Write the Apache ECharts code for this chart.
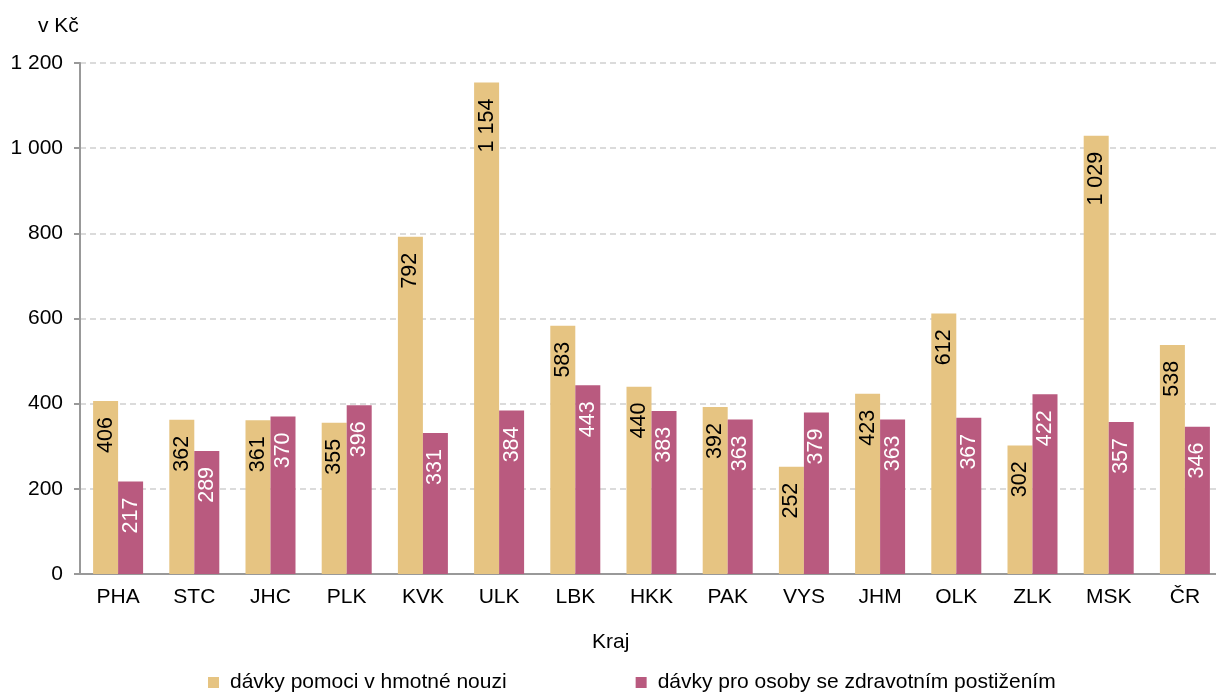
<!DOCTYPE html>
<html><head><meta charset="utf-8">
<script src="https://cdn.jsdelivr.net/npm/echarts@6/dist/echarts.min.js"></script>
<style>html,body{margin:0;padding:0;background:#fff}#c{width:1216px;height:693px}</style>
</head><body><div id="c"></div>
<script>
const categories = ['PHA','STC','JHC','PLK','KVK','ULK','LBK','HKK','PAK','VYS','JHM','OLK','ZLK','MSK','ČR'];
const hmotnaNouze = [406, 362, 361, 355, 792, 1154, 583, 440, 392, 252, 423, 612, 302, 1029, 538];
const zdravotniPostizeni = [217, 289, 370, 396, 331, 384, 443, 383, 363, 379, 363, 367, 422, 357, 346];
const seriesNames = ['dávky pomoci v hmotné nouzi', 'dávky pro osoby se zdravotním postižením'];
const yTicks = [0, 200, 400, 600, 800, 1000, 1200];
const unitLabel = 'v Kč';
const xAxisTitle = 'Kraj';

const FONT = '"Liberation Sans", Arial, sans-serif';
const fmt = v => String(v).replace(/\B(?=(\d{3})+(?!\d))/g, ' ');

const chart = echarts.init(document.getElementById('c'), null, {renderer: 'canvas'});
chart.setOption({
  animation: false,
  textStyle: {fontFamily: FONT},
  title: {text: unitLabel, left: 33, top: 11, textStyle: {fontFamily: FONT, fontSize: 21, fontWeight: 'normal', color: '#000'}},
  graphic: [{
    type: 'text', left: 592, top: 632,
    style: {text: xAxisTitle, fontFamily: FONT, fontSize: 21, fill: '#000'}
  }],
  legend: {
    left: 203, top: 667, itemWidth: 11, itemHeight: 11, itemGap: 129, icon: 'rect',
    textStyle: {fontFamily: FONT, fontSize: 21, color: '#000', padding: [0, 0, 0, 6]},
    data: seriesNames
  },
  grid: {left: 80, top: 63, width: 1143, bottom: 119, outerBoundsMode: 'none', containLabel: false},
  xAxis: {
    type: 'category', data: categories,
    axisLine: {lineStyle: {color: '#999', width: 2}},
    axisTick: {length: 6, lineStyle: {color: '#999', width: 2}},
    axisLabel: {fontFamily: FONT, fontSize: 21, color: '#000', margin: 13}
  },
  yAxis: {
    type: 'value', min: 0, max: 1200, interval: 200,
    axisLine: {show: true, lineStyle: {color: '#999', width: 2}},
    axisTick: {show: true, length: 6, lineStyle: {color: '#999', width: 2}},
    axisLabel: {fontFamily: FONT, fontSize: 21, color: '#000', margin: 17,
      formatter: v => yTicks.includes(v) ? fmt(v) : ''},
    splitLine: {lineStyle: {color: '#cfcfcf', type: [6, 4], width: 1.5}}
  },
  series: [
    {
      name: seriesNames[0], type: 'bar', data: hmotnaNouze, barWidth: 25, barGap: '0%',
      itemStyle: {color: '#E6C482'},
      label: {show: true, position: 'insideTop', rotate: 90, align: 'right', verticalAlign: 'middle', distance: 16,
        fontFamily: FONT, fontSize: 21.5, color: '#000', formatter: p => fmt(p.value)}
    },
    {
      name: seriesNames[1], type: 'bar', data: zdravotniPostizeni, barWidth: 25, barGap: '0%',
      itemStyle: {color: '#B95A7F'},
      label: {show: true, position: 'insideTop', rotate: 90, align: 'right', verticalAlign: 'middle', distance: 16,
        fontFamily: FONT, fontSize: 21.5, color: '#fff', formatter: p => fmt(p.value)}
    }
  ]
});
</script></body></html>
